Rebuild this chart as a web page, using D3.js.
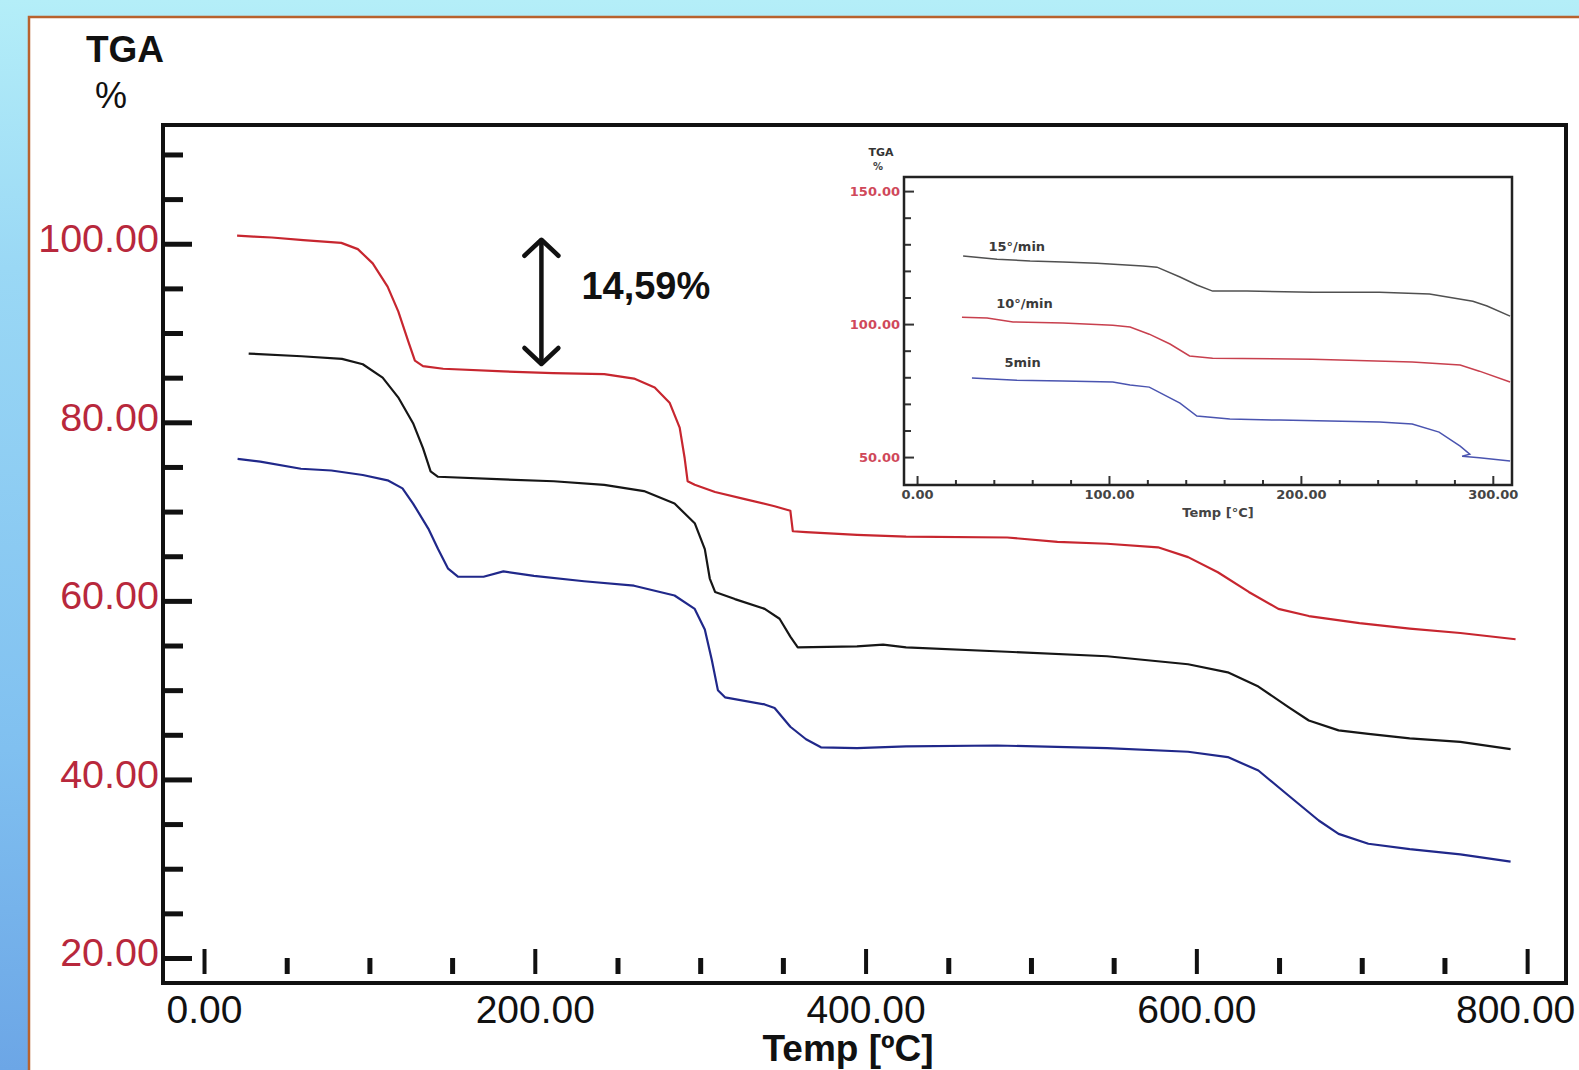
<!DOCTYPE html>
<html>
<head>
<meta charset="utf-8">
<script src="https://cdn.jsdelivr.net/npm/d3@7"></script>
<style>
  html, body { margin: 0; padding: 0; overflow: hidden; background: #fff; }
  svg { display: block; }
</style>
</head>
<body>
<svg id="chart" width="1579" height="1070"></svg>
<script>
// ---- Main TGA run: temperature (°C) and residual mass (%) per sample ----
const redTemp  = [20, 30, 41, 60, 83, 93, 102, 111, 117.5, 123.6, 127.5, 132.4, 144.6, 181, 211, 242, 260, 272.5, 281.5, 287.6, 290.6, 292.4, 296.7, 309, 327, 345, 354.5, 356, 364, 394.8, 424.5, 485.6, 516, 546, 576.8, 595, 613, 631.7, 649.6, 668, 698.6, 729, 759.6, 793];
const redMass  = [100.9, 100.8, 100.7, 100.4, 100.1, 99.4, 97.8, 95.2, 92.4, 89.0, 86.9, 86.3, 86.0, 85.7, 85.5, 85.4, 84.9, 83.9, 82.2, 79.4, 76.0, 73.4, 73.0, 72.2, 71.4, 70.6, 70.1, 67.8, 67.7, 67.4, 67.2, 67.1, 66.6, 66.4, 66.0, 64.9, 63.2, 61.0, 59.1, 58.3, 57.5, 56.9, 56.4, 55.7];

const blackTemp = [27, 59, 83.4, 96, 108, 117.4, 126.4, 132.4, 137, 141.5, 181, 211.5, 242, 266, 284.5, 296.7, 302.8, 305.8, 309, 321, 339, 348, 354.5, 359, 394.8, 410.6, 424.5, 485.6, 546, 595, 619, 637.5, 655.7, 668, 686, 704, 729, 759.6, 790];
const blackMass = [87.7, 87.4, 87.1, 86.5, 85.0, 82.8, 79.9, 77.1, 74.5, 73.9, 73.6, 73.4, 73.0, 72.3, 70.9, 68.7, 65.8, 62.5, 61.0, 60.2, 59.1, 58.0, 56.0, 54.8, 54.9, 55.1, 54.8, 54.3, 53.8, 52.9, 52.0, 50.4, 48.1, 46.6, 45.5, 45.1, 44.6, 44.2, 43.4];

const blueTemp = [20.3, 34, 58.6, 77, 96, 111, 120, 126.4, 135.6, 141.5, 147.6, 153.7, 169, 181, 199.5, 229.8, 260, 284.5, 296.7, 302.8, 307, 310.7, 315, 339, 345, 354.5, 364, 373, 394.8, 424.5, 479.5, 546, 595, 619, 637.5, 655.7, 674, 686, 704, 729, 759.6, 790];
const blueMass = [75.9, 75.6, 74.8, 74.6, 74.1, 73.5, 72.6, 70.9, 68.1, 65.8, 63.6, 62.7, 62.7, 63.3, 62.8, 62.2, 61.7, 60.6, 59.1, 56.8, 53.4, 50.0, 49.2, 48.4, 48.0, 45.9, 44.5, 43.6, 43.5, 43.7, 43.8, 43.5, 43.1, 42.5, 41.0, 38.2, 35.4, 33.9, 32.8, 32.2, 31.6, 30.8];

// Axis ticks and labels
const massTicks  = [20, 40, 60, 80, 100];
const massMinor  = [25, 30, 35, 45, 50, 55, 65, 70, 75, 85, 90, 95, 105, 110];
const tempTicks  = [0, 200, 400, 600, 800];
const tempMinor  = [50, 100, 150, 250, 300, 350, 450, 500, 550, 650, 700, 750];

// First mass-loss step annotation
const lossStart = 100;
const lossPct   = 14.59;
const lossTemp  = 204;
const lossText  = "14,59%";

// ---- Inset: heating-rate comparison ----
const inset15Temp = [24, 41.7, 58.9, 76, 93.8, 117.7, 125, 137, 145.8, 154, 171.9, 206, 241, 267, 289.6, 297, 309];
const inset15Mass = [125.6, 124.4, 123.7, 123.3, 122.9, 121.8, 121.4, 117.7, 114.7, 112.4, 112.4, 112.0, 112.0, 111.3, 108.6, 106.8, 103.0];
const inset10Temp = [23.4, 36.5, 50, 76, 102, 111, 121, 131.8, 142, 154, 206, 258, 283, 293, 309];
const inset10Mass = [102.6, 102.3, 100.8, 100.4, 99.6, 98.9, 96.2, 92.5, 88.0, 87.2, 86.8, 85.7, 84.6, 82.3, 78.2];
const inset5Temp  = [28.6, 52, 76, 102, 111, 121, 137, 145.8, 163, 189, 241, 258, 272, 283, 288, 284, 293, 309];
const inset5Mass  = [79.7, 78.9, 78.6, 78.2, 77.1, 76.3, 70.3, 65.4, 64.3, 63.9, 63.2, 62.4, 59.4, 54.1, 51.1, 50.3, 49.7, 48.5];
const insetRateLabels = ["15°/min", "10°/min", "5min"];
const insetLabelTemp  = [52, 56, 55];
const insetLabelMass  = [127.5, 106.0, 84.0];
const insetMassTicks  = [50, 100, 150];
const insetMassMinor  = [60, 70, 80, 90, 110, 120, 130, 140];
const insetTempTicks  = [0, 100, 200, 300];
const insetTempMinor  = [20, 40, 60, 80, 120, 140, 160, 180, 220, 240, 260, 280];

const svg = d3.select("#chart");
const W = 1579, H = 1070;

// ---- page backdrop and white sheet ----
const defs = svg.append("defs");
const bg = defs.append("linearGradient").attr("id", "bg").attr("x1", 0).attr("y1", 0).attr("x2", 0).attr("y2", 1);
bg.append("stop").attr("offset", 0).attr("stop-color", "#b4eef8");
bg.append("stop").attr("offset", 0.25).attr("stop-color", "#9ad8f5");
bg.append("stop").attr("offset", 0.7).attr("stop-color", "#80c0f0");
bg.append("stop").attr("offset", 1).attr("stop-color", "#6ca6e6");
svg.append("rect").attr("width", W).attr("height", H).attr("fill", "url(#bg)");
svg.append("rect").attr("x", 29).attr("y", 17).attr("width", W).attr("height", H)
  .attr("fill", "#ffffff").attr("stroke", "#b8622e").attr("stroke-width", 2.5);

// ---- main plot ----
const plot = { left: 163, right: 1566, top: 125, bottom: 983 };
const x = d3.scaleLinear().domain([-24.8, 823.5]).range([plot.left, plot.right]);
const y = d3.scaleLinear().domain([17.2, 113.3]).range([plot.bottom, plot.top]);

const font = "'Liberation Sans', Arial, sans-serif";

// y axis: ticks point into the plot, labels on the left in red
const yMinor = svg.append("g").attr("transform", `translate(${plot.left},0)`)
  .call(d3.axisLeft(y).tickValues(massMinor).tickSize(-20).tickFormat(""));
const yMajor = svg.append("g").attr("transform", `translate(${plot.left},0)`)
  .call(d3.axisLeft(y).tickValues(massTicks).tickSize(-29).tickPadding(4).tickFormat(d3.format(".2f")));
[yMinor, yMajor].forEach(g => {
  g.select(".domain").remove();
  g.selectAll(".tick line").attr("stroke", "#111").attr("stroke-width", 5);
});
yMajor.selectAll(".tick text")
  .attr("fill", "#b8283c").attr("font-family", font).attr("font-size", 39.5)
  .attr("dy", "0.2em");

// x axis: short ticks standing just above the baseline
const xTickBase = 974;
const xMinor = svg.append("g").attr("transform", `translate(0,${xTickBase})`)
  .call(d3.axisBottom(x).tickValues(tempMinor).tickSize(-16).tickFormat(""));
const xMajor = svg.append("g").attr("transform", `translate(0,${xTickBase})`)
  .call(d3.axisBottom(x).tickValues(tempTicks).tickSize(-25).tickPadding(22).tickFormat(d3.format(".2f")));
[xMinor, xMajor].forEach(g => {
  g.select(".domain").remove();
  g.selectAll(".tick line").attr("stroke", "#111").attr("stroke-width", 5);
});
xMajor.selectAll(".tick line").attr("stroke-width", 4);
xMajor.selectAll(".tick text")
  .attr("fill", "#111").attr("font-family", font).attr("font-size", 39)
  .attr("dx", d => d === tempTicks[tempTicks.length - 1] ? -12 : 0)
  .attr("dy", "0.68em");

// frame
svg.append("path")
  .attr("d", `M${plot.left},${plot.bottom}V${plot.top}H${plot.right}V${plot.bottom}Z`)
  .attr("fill", "none").attr("stroke", "#111").attr("stroke-width", 4);

// axis titles
svg.append("text").attr("x", 125).attr("y", 62).attr("text-anchor", "middle")
  .attr("font-family", font).attr("font-weight", "bold").attr("font-size", 37).attr("fill", "#111").text("TGA");
svg.append("text").attr("x", 111).attr("y", 108).attr("text-anchor", "middle")
  .attr("font-family", font).attr("font-size", 36).attr("fill", "#111").text("%");
svg.append("text").attr("x", 848).attr("y", 1061).attr("text-anchor", "middle")
  .attr("font-family", font).attr("font-weight", "bold").attr("font-size", 37).attr("fill", "#111").text("Temp [ºC]");

// curves
const mainLine = d3.line().x(d => x(d[0])).y(d => y(d[1]));
const mainSeries = [
  { t: redTemp,   m: redMass,   color: "#c7262f" },
  { t: blackTemp, m: blackMass, color: "#161616" },
  { t: blueTemp,  m: blueMass,  color: "#20288a" }
];
mainSeries.forEach(s => {
  svg.append("path").datum(d3.zip(s.t, s.m))
    .attr("d", mainLine).attr("fill", "none")
    .attr("stroke", s.color).attr("stroke-width", 2.2).attr("stroke-linejoin", "round");
});

// mass-loss annotation: double-headed arrow and label
const ax = x(lossTemp);
const aTop = y(lossStart) - 4;
const aBot = y(lossStart - lossPct) - 10;
const arrow = svg.append("g").attr("stroke", "#111").attr("stroke-width", 4.5)
  .attr("fill", "none").attr("stroke-linecap", "round").attr("stroke-linejoin", "round");
arrow.append("line").attr("x1", ax).attr("x2", ax).attr("y1", aTop + 2).attr("y2", aBot - 2);
arrow.append("path").attr("d", `M${ax - 17},${aTop + 16}L${ax},${aTop}L${ax + 17},${aTop + 16}`);
arrow.append("path").attr("d", `M${ax - 17},${aBot - 16}L${ax},${aBot}L${ax + 17},${aBot - 16}`);
svg.append("text").attr("x", ax + 40).attr("y", 299)
  .attr("font-family", font).attr("font-weight", "bold").attr("font-size", 38).attr("fill", "#111").text(lossText);

// ---- inset ----
const inset = { left: 904, right: 1512, top: 177, bottom: 485 };
const xi = d3.scaleLinear().domain([-6.8, 310]).range([inset.left, inset.right]);
const yi = d3.scaleLinear().domain([39.5, 155.3]).range([inset.bottom, inset.top]);
const smallFont = "'DejaVu Sans', Verdana, sans-serif";

svg.append("rect").attr("x", inset.left).attr("y", inset.top)
  .attr("width", inset.right - inset.left).attr("height", inset.bottom - inset.top)
  .attr("fill", "#fff");

const yiMinor = svg.append("g").attr("transform", `translate(${inset.left},0)`)
  .call(d3.axisLeft(yi).tickValues(insetMassMinor).tickSize(-7).tickFormat(""));
const yiMajor = svg.append("g").attr("transform", `translate(${inset.left},0)`)
  .call(d3.axisLeft(yi).tickValues(insetMassTicks).tickSize(-10).tickPadding(4).tickFormat(d3.format(".2f")));
const xiMinor = svg.append("g").attr("transform", `translate(0,${inset.bottom})`)
  .call(d3.axisBottom(xi).tickValues(insetTempMinor).tickSize(-5).tickFormat(""));
const xiMajor = svg.append("g").attr("transform", `translate(0,${inset.bottom})`)
  .call(d3.axisBottom(xi).tickValues(insetTempTicks).tickSize(-9).tickPadding(5).tickFormat(d3.format(".2f")));
[yiMinor, yiMajor, xiMinor, xiMajor].forEach(g => {
  g.select(".domain").remove();
  g.selectAll(".tick line").attr("stroke", "#333").attr("stroke-width", 2);
});
yiMajor.selectAll(".tick text")
  .attr("fill", "#d0485a").attr("font-family", smallFont).attr("font-weight", "bold").attr("font-size", 13);
xiMajor.selectAll(".tick text")
  .attr("fill", "#444").attr("font-family", smallFont).attr("font-weight", "bold").attr("font-size", 13);

svg.append("path")
  .attr("d", `M${inset.left},${inset.bottom}V${inset.top}H${inset.right}V${inset.bottom}Z`)
  .attr("fill", "none").attr("stroke", "#222").attr("stroke-width", 2.5);

svg.append("text").attr("x", 881).attr("y", 156).attr("text-anchor", "middle")
  .attr("font-family", smallFont).attr("font-weight", "bold").attr("font-size", 11).attr("fill", "#333").text("TGA");
svg.append("text").attr("x", 878).attr("y", 170).attr("text-anchor", "middle")
  .attr("font-family", smallFont).attr("font-weight", "bold").attr("font-size", 10).attr("fill", "#444").text("%");
svg.append("text").attr("x", 1218).attr("y", 517).attr("text-anchor", "middle")
  .attr("font-family", smallFont).attr("font-weight", "bold").attr("font-size", 13).attr("fill", "#444").text("Temp [°C]");

const insetLine = d3.line().x(d => xi(d[0])).y(d => yi(d[1]));
const insetSeries = [
  { t: inset15Temp, m: inset15Mass, color: "#505050" },
  { t: inset10Temp, m: inset10Mass, color: "#c8404e" },
  { t: inset5Temp,  m: inset5Mass,  color: "#4a54b0" }
];
insetSeries.forEach((s, i) => {
  svg.append("path").datum(d3.zip(s.t, s.m))
    .attr("d", insetLine).attr("fill", "none")
    .attr("stroke", s.color).attr("stroke-width", 1.5);
  svg.append("text").attr("x", xi(insetLabelTemp[i])).attr("y", yi(insetLabelMass[i]))
    .attr("text-anchor", "middle").attr("font-family", smallFont).attr("font-weight", "bold")
    .attr("font-size", 13).attr("fill", "#3a3a3a").text(insetRateLabels[i]);
});
</script>
</body>
</html>
